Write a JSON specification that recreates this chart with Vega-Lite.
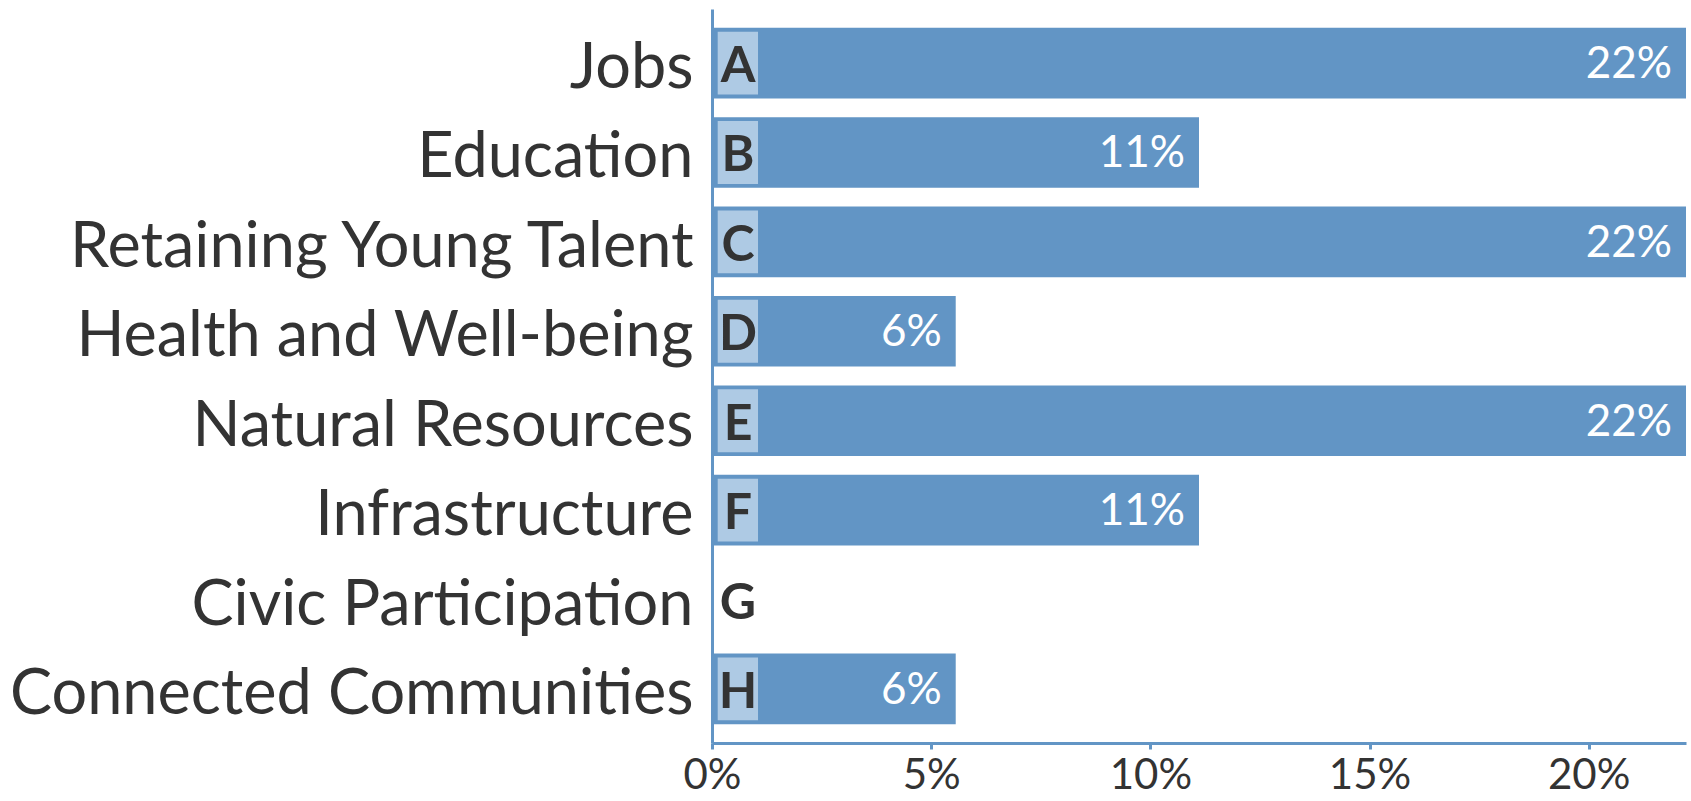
{
  "$schema": "https://vega.github.io/schema/vega-lite/v6.json",
  "width": 974,
  "height": 734,
  "autosize": {"type": "none"},
  "padding": {"left": 712, "top": 9, "right": 5, "bottom": 58},
  "background": "white",
  "config": {
    "font": "Lato",
    "view": {"stroke": null}
  },
  "data": {
    "values": [
      {"category": "Jobs", "letter": "A", "share": 0.2222},
      {"category": "Education", "letter": "B", "share": 0.1111},
      {"category": "Retaining Young Talent", "letter": "C", "share": 0.2222},
      {"category": "Health and Well-being", "letter": "D", "share": 0.0556},
      {"category": "Natural Resources", "letter": "E", "share": 0.2222},
      {"category": "Infrastructure", "letter": "F", "share": 0.1111},
      {"category": "Civic Participation", "letter": "G", "share": 0},
      {"category": "Connected Communities", "letter": "H", "share": 0.0556}
    ]
  },
  "encoding": {
    "y": {
      "field": "category",
      "type": "nominal",
      "sort": null,
      "scale": {"paddingInner": 0.21, "paddingOuter": 0.21},
      "axis": {
        "title": null,
        "ticks": false,
        "domainColor": "#6295c5",
        "domainWidth": 3,
        "labelFontSize": 63,
        "labelColor": "#333333",
        "labelPadding": 19,
        "labelOffset": 6,
        "labelLimit": 800
      }
    }
  },
  "layer": [
    {
      "mark": {"type": "bar", "color": "#6295c5"},
      "encoding": {
        "x": {
          "field": "share",
          "type": "quantitative",
          "scale": {"domain": [0, 0.2222], "nice": false},
          "axis": {
            "title": null,
            "format": ".0%",
            "values": [0, 0.05, 0.1, 0.15, 0.2],
            "grid": false,
            "domainColor": "#6295c5",
            "domainWidth": 3,
            "tickColor": "#6295c5",
            "tickWidth": 3,
            "tickSize": 6,
            "labelFontSize": 42,
            "labelColor": "#333333",
            "labelPadding": 6,
            "labelFlush": false
          }
        }
      }
    },
    {
      "transform": [{"filter": "datum.share > 0"}],
      "mark": {"type": "bar", "color": "#aecae4", "height": {"band": 0.89}},
      "encoding": {
        "x": {"datum": 0.0013, "type": "quantitative"},
        "x2": {"datum": 0.0105}
      }
    },
    {
      "mark": {"type": "text", "fontWeight": "bold", "fontSize": 50, "color": "#333333", "align": "center", "baseline": "middle", "dx": 26, "dy": 4},
      "encoding": {
        "x": {"datum": 0, "type": "quantitative"},
        "text": {"field": "letter"}
      }
    },
    {
      "transform": [{"filter": "datum.share > 0"}],
      "mark": {"type": "text", "fontSize": 44, "color": "white", "align": "right", "baseline": "middle", "dx": -14, "dy": 2},
      "encoding": {
        "x": {"field": "share", "type": "quantitative"},
        "text": {"field": "share", "format": ".0%"}
      }
    }
  ]
}
